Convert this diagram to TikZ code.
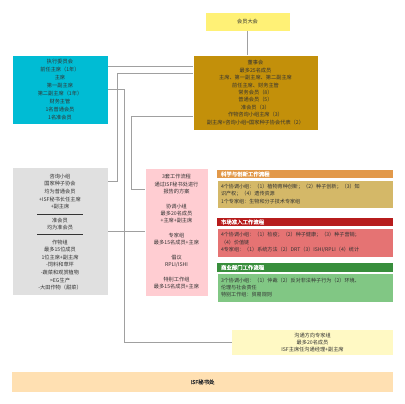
\documentclass[tikz,border=0pt]{standalone}
\usepackage{fontspec}
\newfontfamily\cjk[AutoFakeBold=1.5]{Noto Sans CJK SC}
\usetikzlibrary{positioning}
\definecolor{cGA}{HTML}{FFF176}
\definecolor{cBoard}{HTML}{C3900A}
\definecolor{cExec}{HTML}{00BCD4}
\definecolor{cGray}{HTML}{E0E0E0}
\definecolor{cPink}{HTML}{FFCDD2}
\definecolor{cSciH}{HTML}{E2994A}
\definecolor{cSciB}{HTML}{D4B868}
\definecolor{cMktH}{HTML}{B71C1C}
\definecolor{cMktB}{HTML}{E57373}
\definecolor{cComH}{HTML}{388E3C}
\definecolor{cComB}{HTML}{81C784}
\definecolor{cComm}{HTML}{FFF9C4}
\definecolor{cISF}{HTML}{FFE0B2}
\definecolor{cTxt}{HTML}{333333}
\definecolor{cLine}{HTML}{A0A0A0}
\begin{document}
\begin{tikzpicture}[x=1pt,y=-1pt,
  box/.style={anchor=north west,inner sep=0pt,outer sep=0pt,draw=white,line width=0.6pt,
    align=center,text=cTxt,font=\cjk\fontsize{5.2}{7.4}\selectfont},
  txt/.style={inner sep=0pt,align=center,text=cTxt,font=\cjk\fontsize{5.2}{7.6}\selectfont},
  head/.style={anchor=north west,inner sep=0pt,outer sep=0pt,draw=none,
    text=white,font=\cjk\bfseries\fontsize{5.4}{7}\selectfont,align=left,
    minimum width=176pt,text width=168pt},
  body/.style={anchor=north west,inner sep=0pt,outer sep=0pt,draw=white,line width=0.6pt,
    text=cTxt,font=\cjk\fontsize{5.1}{7.4}\selectfont,align=left,
    minimum width=176pt,text width=168pt},
  conn/.style={draw=cLine,line width=0.7pt}]
\useasboundingbox (0,0) rectangle (405,404);
\fill[white] (0,0) rectangle (405,404);

\node[box,fill=cGA,minimum width=85pt,minimum height=19pt] (ga) at (205,12) {会员大会};

\node[box,fill=cBoard,minimum width=125pt,minimum height=75pt] (board) at (193,55)
 {董事会\\最多25名成员\\主席、第一副主席、第二副主席\\前任主席、财务主管\\常务会员（8）\\普通会员（5）\\准会员（3）\\作物咨询小组主席（3）\\副主席+咨询小组=国家种子协会代表（2）};

\node[box,fill=cExec,minimum width=96pt,minimum height=69pt,font=\cjk\fontsize{5.2}{7.9}\selectfont] (exec) at (12,55)
 {执行委员会\\前任主席（1年）\\主席\\第一副主席\\第二副主席（1年）\\财务主管\\1名普通会员\\1名准会员};

\node[box,fill=cGray,minimum width=96pt,minimum height=128pt] (gray) at (12,167) {};
\node[txt] (g1) at (60,191.5) {咨询小组\\国家种子协会\\均为普通会员\\+ISF秘书长任主席\\+副主席};
\node[txt] (g2) at (60,224) {准会员\\均为准会员};
\node[txt] (g3) at (60,265) {作物组\\最多15位成员\\1位主席+副主席\\-饲料和草坪\\-蔬菜和观赏植物\\>EG生产\\-大田作物（甜菜）};
\draw[cTxt,line width=0.6pt] (37,214) -- (83,214);
\draw[cTxt,line width=0.6pt] (37,234) -- (83,234);

\node[box,fill=cPink,minimum width=63pt,minimum height=128pt,font=\cjk\fontsize{5.2}{7.33}\selectfont] (pink) at (145,168)
 {3套工作流程\\通过ISF秘书处进行\\报告的方案\\\mbox{}\\协调小组\\最多20名成员\\+主席+副主席\\\mbox{}\\专家组\\最多15名成员+主席\\\mbox{}\\倡议\\RPLI/ISHI\\\mbox{}\\特别工作组\\最多15名成员+主席};

\node[head,fill=cSciH,minimum height=8pt] (sciH) at (217,170) {科学与创新工作流程};
\node[body,fill=cSciB,minimum height=28pt] (sciB) at (217,180)
 {4个协调小组：（1）植物育种创新；（2）种子创新；（3）知\\识产权；（4）遗传资源\\1个专家组：生物和分子技术专家组};

\node[head,fill=cMktH,minimum height=8pt] (mktH) at (217,218) {市场准入工作流程};
\node[body,fill=cMktB,minimum height=29pt] (mktB) at (217,228)
 {4个协调小组：（1）检疫；（2）种子健康；（3）种子营销；\\（4）价值链\\4专家组：（1）系统方法（2）DRT（3）ISHI/RPLI（4）统计};

\node[head,fill=cComH,minimum height=9pt] (comH) at (217,263) {商业部门工作流程};
\node[body,fill=cComB,minimum height=29pt] (comB) at (217,273)
 {3个协调小组：（1）仲裁（2）反对非法种子行为（2）环境、\\伦理与社会责任\\特别工作组：贸易规则};

\node[box,fill=cComm,draw=none,minimum width=161pt,minimum height=25pt,font=\cjk\fontsize{5.2}{7}\selectfont] (comm) at (232,330)
 {沟通方向专家组\\最多20名成员\\ISF主席任沟通经理+副主席};

\node[box,fill=cISF,draw=none,minimum width=381pt,minimum height=20pt,font=\cjk\bfseries\fontsize{5.4}{7}\selectfont] (isf) at (12,372) {ISF秘书处};

% connectors
\draw[conn] (ga.south) -- (ga.south |- board.north);
\draw[conn] ([yshift=-11pt]exec.north east) -- ([yshift=-11pt]board.north west);
\draw[conn] ([yshift=-18pt]board.north west) -| ([xshift=9pt,yshift=-14pt]gray.north east) -- ([yshift=-14pt]gray.north east);
\draw[conn] ([yshift=-34pt]exec.north east) -| ([xshift=16pt]exec.east |- comm.west) -- (comm.west);
\draw[conn] ([yshift=-61pt]board.north west) -| ([xshift=-14pt,yshift=-21pt]pink.north west) -- ([yshift=-21pt]pink.north west);
\draw[conn] ([yshift=-64pt]gray.north east) -- ([yshift=-63pt]pink.north west);
\end{tikzpicture}
\end{document}
